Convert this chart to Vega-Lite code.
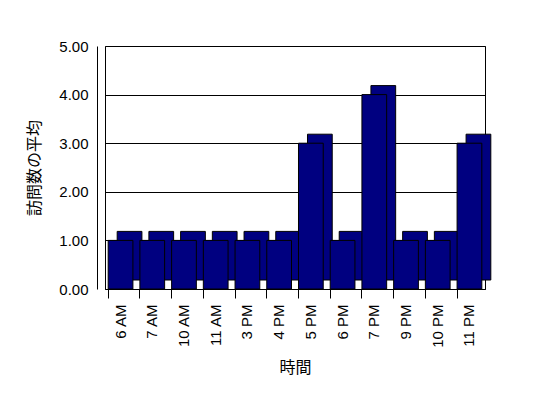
{
  "$schema": "https://vega.github.io/schema/vega-lite/v6.json",
  "autosize": {"type": "none"},
  "padding": {"left": 105, "top": 46, "right": 63, "bottom": 109},
  "width": 380,
  "height": 243,
  "background": "white",
  "config": {
    "view": {"stroke": "black", "strokeWidth": 1},
    "font": "Liberation Sans",
    "axis": {"domainColor": "black", "tickColor": "black", "labelColor": "black", "titleColor": "black", "labelFontSize": 15, "labelFont": "Liberation Sans", "titleFont": "Noto Sans CJK JP", "titleFontSize": 16, "titleFontWeight": "normal"}
  },
  "data": {
    "values": [
      {"time": "6 AM", "visits": 1},
      {"time": "7 AM", "visits": 1},
      {"time": "10 AM", "visits": 1},
      {"time": "11 AM", "visits": 1},
      {"time": "3 PM", "visits": 1},
      {"time": "4 PM", "visits": 1},
      {"time": "5 PM", "visits": 3},
      {"time": "6 PM", "visits": 1},
      {"time": "7 PM", "visits": 4},
      {"time": "9 PM", "visits": 1},
      {"time": "10 PM", "visits": 1},
      {"time": "11 PM", "visits": 3}
    ]
  },
  "encoding": {
    "x": {
      "field": "time", "type": "nominal", "sort": null,
      "scale": {"paddingInner": 0.22, "paddingOuter": 0.1},
      "axis": {"title": "時間", "labelAngle": 270, "labelAlign": "right", "labelBaseline": "middle", "labelPadding": 6, "tickSize": 9, "bandPosition": 0, "titlePadding": 12}
    },
    "y": {
      "field": "visits", "type": "quantitative",
      "scale": {"domain": [0, 5]},
      "axis": {"title": "訪問数の平均", "format": ".2f", "values": [0, 1, 2, 3, 4, 5], "grid": true, "gridColor": "black", "gridOpacity": 1, "ticks": false, "labelPadding": 9, "offset": 8, "titlePadding": 16}
    }
  },
  "layer": [
    {"mark": {"type": "bar", "color": "#000080", "stroke": "black", "strokeWidth": 1, "xOffset": 9, "yOffset": -9}},
    {"mark": {"type": "bar", "color": "#000080", "stroke": "black", "strokeWidth": 1}}
  ]
}
